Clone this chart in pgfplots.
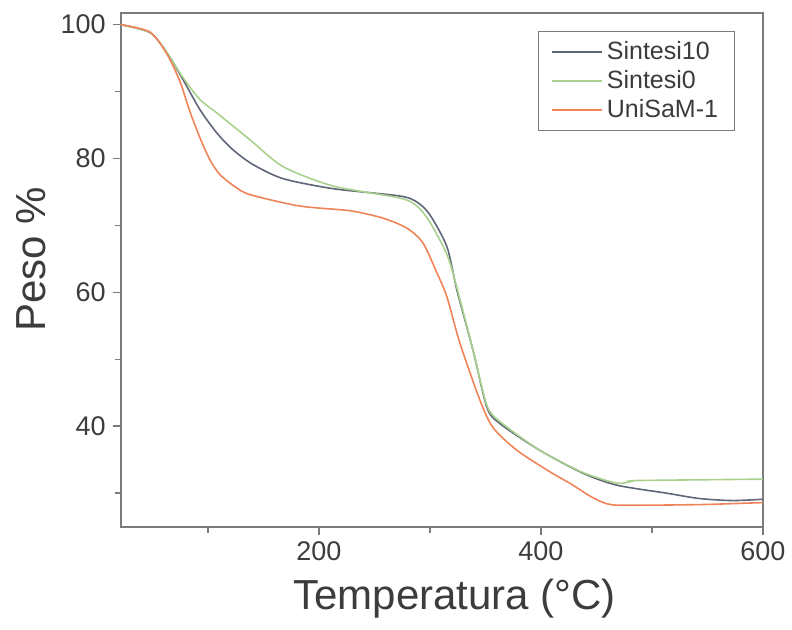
\documentclass[border=0pt]{standalone}
\usepackage{fontspec}
\setmainfont{Liberation Sans}
\usepackage{pgfplots}
\pgfplotsset{compat=1.18}
\definecolor{axgray}{HTML}{7C7C7C}
\definecolor{txtgray}{HTML}{3C3C3C}
\definecolor{cblue}{HTML}{5E6678}
\definecolor{cgreen}{HTML}{A9D18E}
\definecolor{corange}{HTML}{F08458}
\begin{document}
\begin{tikzpicture}
\begin{axis}[name=ax, scale only axis, width=321pt, height=257pt,
  xmin=21.4, xmax=600, ymin=25, ymax=101.8,
  xtick={200,400,600}, ytick={40,60,80,100},
  minor xtick={100,300,500}, minor ytick={30,50,70,90},
  tick align=outside, xtick pos=left, ytick pos=left,
  major tick length=4pt, minor tick length=3pt,
  axis line style={axgray, line width=1pt},
  every tick/.style={axgray, line width=0.8pt},
  tick label style={font=\fontsize{13.5}{16}\selectfont, text=txtgray},
  /pgf/number format/assume math mode=true,
  xlabel={Temperatura (°C)}, ylabel={Peso \%},
  label style={font=\fontsize{21}{25}\selectfont, text=txtgray},
  xlabel style={at={(axis description cs:0.52,-0.14)}, anchor=center},
  ylabel style={at={(axis description cs:-0.14,0.52)}, anchor=center},
  legend style={at={(axis description cs:0.956,0.964)}, anchor=north east,
    draw=axgray, line width=0.5pt, font=\fontsize{12.5}{15}\selectfont, text=txtgray,
    inner xsep=6pt, inner ysep=3pt, row sep=0pt},
  legend cell align=left,
  legend image code/.code={\draw[#1, line width=1pt] (0pt,0pt) -- (25pt,0pt);},
  clip=true,
]
\addplot[cblue, line width=0.8pt, smooth, tension=0.45] coordinates {
(21.4,100) (47.8,98.8) (63.1,95.8) (77.5,91.8) (92.8,87.3) (108.1,83.8)
(122.6,81.3) (140.6,79.1) (167.6,77.0) (212.6,75.5) (273.0,74.4) (288.3,73.5)
(300.0,71.6) (315.4,66.8) (324.4,60.3) (338.8,51.4) (351.4,42.8) (363.1,40.4)
(399.1,36.4) (437.8,33.0) (468.5,31.2) (513.5,30.0) (543.2,29.2) (572.9,28.9) (600,29.1)
};
\addlegendentry{Sintesi10}
\addplot[cgreen, line width=0.8pt, smooth, tension=0.45] coordinates {
(21.4,100) (47.8,98.8) (63.1,95.8) (77.5,92.1) (92.8,88.8) (108.1,86.8)
(137.9,82.8) (167.6,78.8) (212.6,75.9) (273.0,74.1) (288.3,72.9) (300.0,70.5)
(313.6,66.3) (320.8,62.9) (338.8,51.4) (351.4,43.1) (363.1,40.7) (399.1,36.4)
(437.8,33.1) (468.5,31.5) (482.8,31.8) (489.1,31.9) (600,32.1)
};
\addlegendentry{Sintesi0}
\addplot[corange, line width=0.8pt, smooth, tension=0.45] coordinates {
(21.4,100) (47.8,98.9) (63.1,95.6) (74.8,91.5) (83.8,87.0) (92.8,83.1)
(101.8,79.8) (110.8,77.6) (124.3,75.8) (137.9,74.6) (182.9,72.9) (228.0,72.2)
(257.7,71.1) (279.3,69.6) (293.7,67.4) (306.4,62.9) (315.4,59.3) (327.1,52.4)
(345.1,43.9) (356.9,39.8) (378.5,36.4) (408.1,33.2) (427.0,31.4) (445.0,29.5)
(460.0,28.4) (476.0,28.2) (543.2,28.3) (600,28.6)
};
\addlegendentry{UniSaM-1}
\end{axis}
\path (ax.south west) ++(-60.35pt,-51.5pt) coordinate (bl);
\path (ax.north east) ++(14.5pt,6.3pt) coordinate (tr);
\path (bl) rectangle (tr);
\end{tikzpicture}
\end{document}
